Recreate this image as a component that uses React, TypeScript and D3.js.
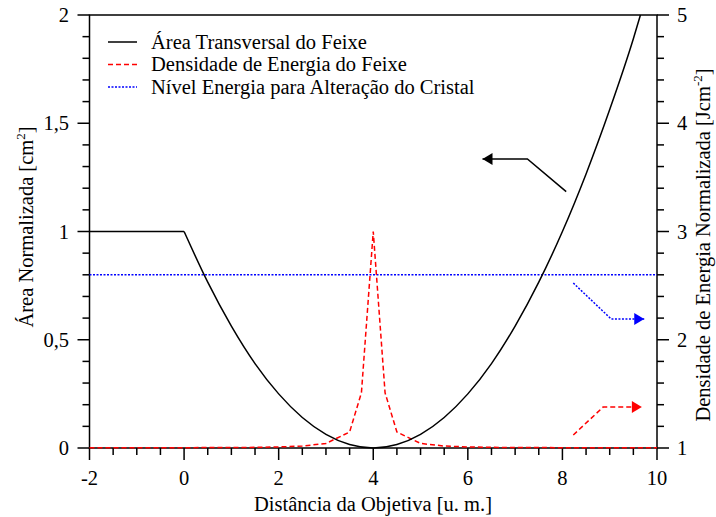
import React, { useEffect, useRef } from "react";
import * as d3 from "d3";

// Área transversal do feixe (eixo esquerdo)
const areaX = [-2, 0, 0.5, 1, 1.5, 2, 2.5, 3, 3.5, 4, 4.5, 5, 5.5, 6, 6.5, 7, 7.5, 8, 8.5, 9, 9.5, 9.65];
const areaY = [1, 1, 0.766, 0.563, 0.39, 0.25, 0.141, 0.063, 0.016, 0, 0.016, 0.063, 0.141, 0.25, 0.39, 0.563, 0.766, 1.0, 1.266, 1.563, 1.89, 2.0];

// Densidade de energia do feixe (desenhada na escala esquerda, 0..1)
const densX = [-2, -1.5, -1, -0.5, 0, 0.5, 1, 1.5, 2, 2.5, 3, 3.5, 3.75, 4, 4.25, 4.5, 5, 5.5, 6, 6.5, 7, 7.5, 8, 8.5, 9, 9.5, 10];
const densY = [0.001, 0.001, 0.001, 0.001, 0.0015, 0.002, 0.002, 0.003, 0.005, 0.009, 0.021, 0.074, 0.255, 1, 0.255, 0.074, 0.021, 0.009, 0.005, 0.003, 0.002, 0.002, 0.0015, 0.001, 0.001, 0.001, 0.001];

// Nível de energia para alteração do cristal
const levelX = [-2, 10];
const levelY = [0.8, 0.8];

const xTicks = [-2, 0, 2, 4, 6, 8, 10];
const yLeftTicks = [0, 0.5, 1, 1.5, 2];
const yLeftLabels = ["0", "0,5", "1", "1,5", "2"];
const yRightTicks = [1, 2, 3, 4, 5];

const legendLabels = [
  "Área Transversal do Feixe",
  "Densidade de Energia do Feixe",
  "Nível Energia para Alteração do Cristal",
];

// anotações (setas) em coordenadas de dados [x, yEsq]
const arrowBlack: [number, number][] = [[8.08, 1.184], [7.26, 1.335], [6.31, 1.335]];
const arrowBlue: [number, number][] = [[8.23, 0.762], [9.03, 0.596], [9.73, 0.596]];
const arrowRed: [number, number][] = [[8.23, 0.06], [8.86, 0.189], [9.68, 0.189]];

const W = 716;
const H = 517;
const FONT = "Liberation Serif, DejaVu Serif, serif";
const FS = 20.5;
const SW = 1.5;

export default function App() {
  const ref = useRef<SVGSVGElement | null>(null);

  useEffect(() => {
    if (!ref.current) return;
    const svg = d3.select(ref.current);
    svg.selectAll("*").remove();

    const left = 89.5, right = 657, top = 15, bottom = 448;
    const x = d3.scaleLinear().domain([-2, 10]).range([left, right]);
    const yL = d3.scaleLinear().domain([0, 2]).range([bottom, top]);
    const yR = d3.scaleLinear().domain([1, 5]).range([bottom, top]);

    const g = svg.append("g");
    const txt = () => g.append("text").attr("font-family", FONT).attr("font-size", FS).attr("fill", "#000");

    // frame
    g.append("rect")
      .attr("x", left).attr("y", top)
      .attr("width", right - left).attr("height", bottom - top)
      .attr("fill", "none").attr("stroke", "#000").attr("stroke-width", SW);

    const major = 12, minor = 7;

    // bottom axis ticks
    d3.range(-2, 10.001, 0.5).forEach((v) => {
      const isMajor = Math.abs(v % 2) < 1e-6;
      g.append("line")
        .attr("x1", x(v)).attr("x2", x(v))
        .attr("y1", bottom).attr("y2", bottom + (isMajor ? major : minor))
        .attr("stroke", "#000").attr("stroke-width", SW);
    });
    xTicks.forEach((v) => {
      txt().attr("x", x(v)).attr("y", 485).attr("text-anchor", "middle").text(v);
    });

    // left axis ticks
    d3.range(0, 20.001, 1).forEach((i) => {
      const v = i / 10;
      const isMajor = i % 5 === 0;
      g.append("line")
        .attr("x1", left).attr("x2", left - (isMajor ? major : minor))
        .attr("y1", yL(v)).attr("y2", yL(v))
        .attr("stroke", "#000").attr("stroke-width", SW);
    });
    yLeftTicks.forEach((v, i) => {
      txt().attr("x", 69).attr("y", yL(v) + 7)
        .attr("text-anchor", "end").text(yLeftLabels[i]);
    });

    // right axis ticks
    d3.range(0, 20.001, 1).forEach((i) => {
      const v = 1 + i / 5;
      const isMajor = i % 5 === 0;
      g.append("line")
        .attr("x1", right).attr("x2", right + (isMajor ? major : minor))
        .attr("y1", yR(v)).attr("y2", yR(v))
        .attr("stroke", "#000").attr("stroke-width", SW);
    });
    yRightTicks.forEach((v) => {
      txt().attr("x", 677).attr("y", yR(v) + 7)
        .attr("text-anchor", "start").text(v);
    });

    // axis titles
    txt().attr("x", 373).attr("y", 511).attr("text-anchor", "middle")
      .text("Distância da Objetiva [u. m.]");

    const lt = txt().attr("transform", "translate(33,227) rotate(-90)")
      .attr("text-anchor", "middle");
    lt.append("tspan").text("Área Normalizada [cm");
    lt.append("tspan").attr("dy", -8).attr("font-size", 13).text("2");
    lt.append("tspan").attr("dy", 8).text("]");

    const rt = txt().attr("transform", "translate(710,245) rotate(-90)")
      .attr("text-anchor", "middle");
    rt.append("tspan").text("Densidade de Energia Normalizada [Jcm");
    rt.append("tspan").attr("dy", -8).attr("font-size", 13).text("-2");
    rt.append("tspan").attr("dy", 8).text("]");

    // series
    const areaData = areaX.map((v, i) => [v, areaY[i]] as [number, number]);
    const densData = densX.map((v, i) => [v, densY[i]] as [number, number]);
    const levelData = levelX.map((v, i) => [v, levelY[i]] as [number, number]);

    const smooth = d3.line<[number, number]>()
      .x((d) => x(d[0])).y((d) => yL(d[1])).curve(d3.curveMonotoneX);
    const straight = d3.line<[number, number]>()
      .x((d) => x(d[0])).y((d) => yL(d[1]));

    g.append("path").attr("d", straight(levelData)!)
      .attr("fill", "none").attr("stroke", "#0000ff").attr("stroke-width", SW)
      .attr("stroke-dasharray", "2,1.5");
    g.append("path").attr("d", straight(densData)!)
      .attr("fill", "none").attr("stroke", "#ff0000").attr("stroke-width", SW)
      .attr("stroke-dasharray", "5,3");
    g.append("path").attr("d", straight([areaData[0], areaData[1]])!)
      .attr("fill", "none").attr("stroke", "#000").attr("stroke-width", SW);
    g.append("path").attr("d", smooth(areaData.slice(1))!)
      .attr("fill", "none").attr("stroke", "#000").attr("stroke-width", SW);

    // arrows
    const drawArrow = (pts: [number, number][], color: string, dash: string | null) => {
      const p = g.append("path").attr("d", straight(pts)!)
        .attr("fill", "none").attr("stroke", color).attr("stroke-width", SW);
      if (dash) p.attr("stroke-dasharray", dash);
      const a = pts[pts.length - 2];
      const b = pts[pts.length - 1];
      const tx = x(b[0]), ty = yL(b[1]);
      const dir = Math.sign(x(b[0]) - x(a[0]));
      const len = 10, hw = 6;
      g.append("path")
        .attr("d", `M${tx},${ty}L${tx - dir * len},${ty - hw}L${tx - dir * len},${ty + hw}Z`)
        .attr("fill", color);
    };
    drawArrow(arrowBlack, "#000", null);
    drawArrow(arrowBlue, "#0000ff", "2,1.5");
    drawArrow(arrowRed, "#ff0000", "5,3");

    // legend
    const legColors = ["#000", "#ff0000", "#0000ff"];
    const legDash = [null, "5,3", "2,1.5"];
    legendLabels.forEach((lab, i) => {
      const ly = 42 + i * 22.5;
      const ln = g.append("line").attr("x1", 108).attr("x2", 137)
        .attr("y1", ly).attr("y2", ly)
        .attr("stroke", legColors[i]).attr("stroke-width", SW);
      if (legDash[i]) ln.attr("stroke-dasharray", legDash[i]!);
      txt().attr("x", 151).attr("y", ly + 6.5).text(lab);
    });
  }, []);

  return (
    <svg ref={ref} width={W} height={H}
      style={{ position: "absolute", left: 0, top: 0, background: "#fff" }} />
  );
}
